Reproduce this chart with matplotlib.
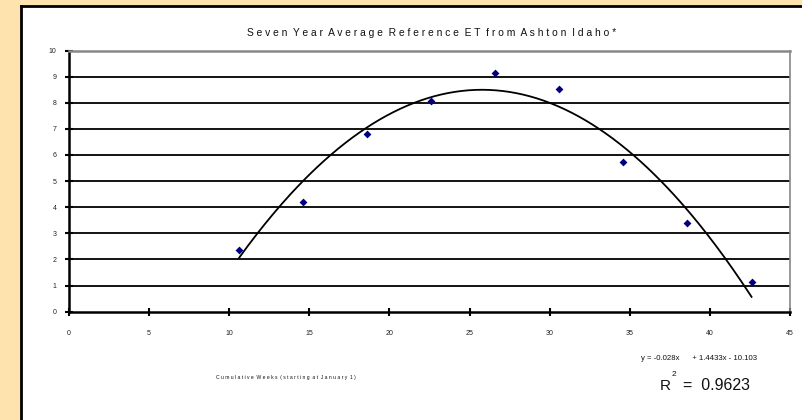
import numpy as np
import matplotlib
matplotlib.use("Agg")
import matplotlib.pyplot as plt
from matplotlib.patches import Rectangle

# data
weeks = [10.6, 14.6, 18.6, 22.6, 26.6, 30.6, 34.6, 38.6, 42.6]
et_values = [2.38, 4.2, 6.82, 8.07, 9.12, 8.52, 5.72, 3.38, 1.15]
trend_coefs = [-0.028, 1.4433, -10.103]
x_ticks = [0, 5, 10, 15, 20, 25, 30, 35, 40, 45]
y_ticks = [0, 1, 2, 3, 4, 5, 6, 7, 8, 9, 10]
title = "Seven Year Average Reference ET from Ashton Idaho*"
xlabel = "Cumulative Weeks (starting at January 1)"
equation = "y = -0.028x      + 1.4433x - 10.103"
r2_text = "=  0.9623"

def spaced(s, gap=" "):
    return "  ".join(gap.join(w) for w in s.split(" "))

plt.rcParams['font.family'] = ['Liberation Sans', 'DejaVu Sans']

W, H = 803, 420
fig = plt.figure(figsize=(W / 100, H / 100), dpi=100)
fig.patch.set_facecolor('#FFE3AE')

# white panel
panel = Rectangle((21 / W, 0), 1.0, (H - 6) / H, transform=fig.transFigure,
                  facecolor='white', edgecolor='none', zorder=-2)
fig.patches.append(panel)
fig.add_artist(plt.Line2D([21 / W, 21 / W], [0, (H - 6) / H], transform=fig.transFigure,
                          color='black', lw=2, zorder=-1))
fig.add_artist(plt.Line2D([21 / W, 1], [(H - 6) / H, (H - 6) / H], transform=fig.transFigure,
                          color='black', lw=2, zorder=-1))

left, right = 69, 790
top, bottom = 50.5, 311.7
ax = fig.add_axes([left / W, (H - bottom) / H, (right - left) / W, (bottom - top) / H])
ax.set_zorder(2)
ax.set_facecolor('white')

ax.set_xlim(x_ticks[0], x_ticks[-1])
ax.set_ylim(y_ticks[0], y_ticks[-1])
ax.set_xticks(x_ticks)
ax.set_yticks(y_ticks)

for y in y_ticks[1:-1]:
    ax.axhline(y, color='black', lw=1.3, zorder=1)

ax.spines['left'].set_color('black')
ax.spines['left'].set_linewidth(1.8)
ax.spines['bottom'].set_color('black')
ax.spines['bottom'].set_linewidth(1.8)
ax.spines['top'].set_color('#888888')
ax.spines['top'].set_linewidth(1.8)
ax.spines['right'].set_color('#888888')
ax.spines['right'].set_linewidth(1.2)

ax.tick_params(axis='both', direction='inout', length=6, width=1.5, color='black',
               labelsize=5, labelcolor='#222222')
ax.tick_params(axis='x', pad=10)
ax.tick_params(axis='y', pad=6)

xs = np.linspace(weeks[0], weeks[-1], 300)
ys = np.polyval(trend_coefs, xs)
ax.plot(xs, ys, color='black', lw=1.3, zorder=3)
ax.scatter(weeks, et_values, marker='D', s=16, color='#000080', zorder=4, linewidths=0)

fig.text(432 / W, 1 - 33 / H, spaced(title), ha='center', va='center', fontsize=7.4, color='#111111')
fig.text(286 / W, 1 - 377 / H, spaced(xlabel), ha='center', va='center', fontsize=3.6,
         color='#111111')
fig.text(699 / W, 1 - 358 / H, equation, ha='center', va='center', fontsize=5.6, color='#111111')
fig.text(660 / W, 1 - 386 / H, "R", ha='left', va='center', fontsize=11, color='#111111')
fig.text(672 / W, 1 - 374 / H, "2", ha='left', va='center', fontsize=6, color='#111111')
fig.text(683 / W, 1 - 386 / H, r2_text, ha='left', va='center', fontsize=11.5, color='#111111')

fig.savefig("out.png", dpi=100, facecolor=fig.get_facecolor())
